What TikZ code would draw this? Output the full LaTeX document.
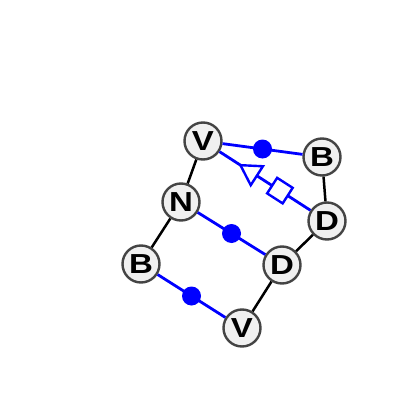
\documentclass[tikz,border=0pt]{standalone}
\usepackage{fontspec}
\setmainfont{Liberation Sans}
\newfontfamily\labfont{Liberation Sans}[FakeStretch=1.2]
\usetikzlibrary{shapes.geometric}
\definecolor{nodefill}{HTML}{F0F0F0}
\definecolor{nodeline}{HTML}{444444}
\definecolor{bondblue}{HTML}{0000FF}
\tikzset{
  res/.style={circle, draw=nodeline, line width=2.4pt, fill=nodefill, minimum size=37pt, inner sep=0pt,
    font=\labfont\fontsize{27.5}{27.5}\selectfont\bfseries},
  bb/.style={draw=black, line width=2.5pt},
  bl/.style={draw=bondblue, line width=2.8pt},
  dot/.style={circle, fill=bondblue, minimum size=19pt, inner sep=0pt},
  tri/.style={regular polygon, regular polygon sides=3, shape border rotate=90, draw=bondblue, fill=white,
    line width=2.4pt, minimum size=26pt, inner sep=0pt, sloped},
  sq/.style={rectangle, draw=bondblue, fill=white, line width=2.4pt, minimum size=18.5pt, inner sep=0pt, sloped}
}
\begin{document}
\begin{tikzpicture}[x=1pt, y=-1pt]
\useasboundingbox (0,0) rectangle (400,401);
\node[res] (V1) at (203,141) {V};
\node[res] (B1) at (322,157) {B};
\node[res] (N1) at (181,202) {N};
\node[res] (D1) at (327,221) {D};
\node[res] (B2) at (141,264) {B};
\node[res] (D2) at (282,265) {D};
\node[res] (V2) at (242,328) {V};
\draw[bb] (V1) -- (N1);
\draw[bb] (N1) -- (B2);
\draw[bb] (V2) -- (D2);
\draw[bb] (D2) -- (D1);
\draw[bb] (D1) -- (B1);
\draw[bl] (V1) -- node[dot] (m1) {} (B1);
\draw[bl] (N1) -- node[dot] (m2) {} (D2);
\draw[bl] (B2) -- node[dot] (m3) {} (V2);
\draw[bl] (V1) -- node[tri, pos=0.35] (t1) {} node[sq, pos=0.664] (s1) {} (D1);
\end{tikzpicture}
\end{document}
